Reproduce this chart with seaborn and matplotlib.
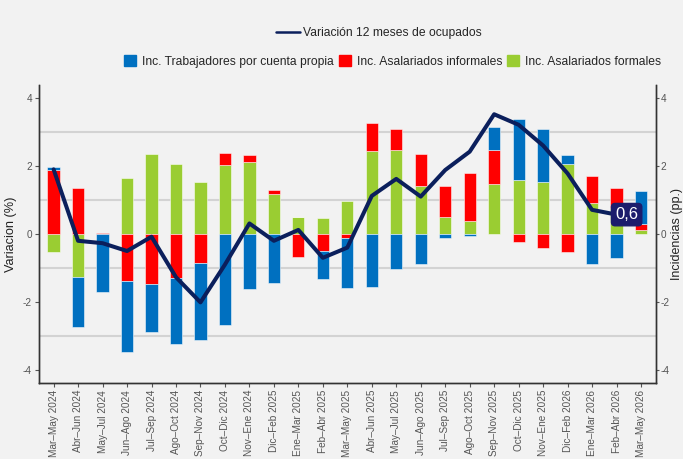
import numpy as np
import matplotlib
matplotlib.use("Agg")
import matplotlib.pyplot as plt
from matplotlib.lines import Line2D
from matplotlib.patches import Patch
import seaborn as sns

periodos = ["Mar–May 2024", "Abr–Jun 2024", "May–Jul 2024", "Jun–Ago 2024", "Jul–Sep 2024",
            "Ago–Oct 2024", "Sep–Nov 2024", "Oct–Dic 2024", "Nov–Ene 2024", "Dic–Feb 2025",
            "Ene–Mar 2025", "Feb–Abr 2025", "Mar–May 2025", "Abr–Jun 2025", "May–Jul 2025",
            "Jun–Ago 2025", "Jul–Sep 2025", "Ago–Oct 2025", "Sep–Nov 2025", "Oct–Dic 2025",
            "Nov–Ene 2025", "Dic–Feb 2026", "Ene–Mar 2026", "Feb–Abr 2026", "Mar–May 2026"]

formales = [-0.54, -1.25, 0.0, 1.66, 2.36, 2.06, 1.52, 2.04, 2.11, 1.18, 0.49, 0.48, 0.96,
            2.43, 2.47, 1.40, 0.50, 0.37, 1.47, 1.60, 1.52, 2.05, 0.90, 0.77, 0.12]
informales = [1.89, 1.36, 0.02, -1.39, -1.46, -1.28, -0.86, 0.34, 0.22, 0.11, -0.67, -0.50, -0.13,
              0.84, 0.61, 0.95, 0.92, 1.43, 1.01, -0.23, -0.40, -0.54, 0.81, 0.57, 0.18]
cuenta_propia = [0.07, -1.48, -1.70, -2.08, -1.43, -1.94, -2.26, -2.68, -1.61, -1.44, 0.0, -0.81, -1.47,
                 -1.57, -1.04, -0.87, -0.12, -0.07, 0.67, 1.77, 1.56, 0.28, -0.89, -0.72, 0.95]
variacion = [1.90, -0.20, -0.27, -0.50, -0.08, -1.27, -2.01, -0.90, 0.31, -0.20, 0.12, -0.70,
             -0.40, 1.12, 1.62, 1.10, 1.88, 2.42, 3.52, 3.21, 2.60, 1.78, 0.71, 0.57]

COL_AZUL = "#0070C0"
COL_ROJO = "#FF0000"
COL_VERDE = "#9ACD32"
COL_LINEA = "#0B1F5C"
FONDO = "#F2F2F2"


def apilar(*series):
    # base de cada serie: positivos hacia arriba, negativos hacia abajo
    pos = np.zeros(len(series[0]))
    neg = np.zeros(len(series[0]))
    bases = []
    for s in series:
        s = np.asarray(s, dtype=float)
        bases.append(np.where(s >= 0, pos, neg))
        pos = pos + np.clip(s, 0, None)
        neg = neg + np.clip(s, None, 0)
    return bases


sns.set_theme(style="white")
plt.rcParams["font.family"] = ["Liberation Sans", "DejaVu Sans"]
plt.rcParams["axes.unicode_minus"] = False

fig = plt.figure(figsize=(6.83, 4.59), dpi=100, facecolor=FONDO)
ax = fig.add_axes([0.057, 0.1656, 0.903, 0.6492], facecolor=FONDO)

b_verde, b_rojo, b_azul = apilar(formales, informales, cuenta_propia)
borde = dict(edgecolor=(1, 1, 1, 0.6), linewidth=0.6)
for valores, base, color in [(formales, b_verde, COL_VERDE),
                             (informales, b_rojo, COL_ROJO),
                             (cuenta_propia, b_azul, COL_AZUL)]:
    sns.barplot(x=periodos, y=valores, bottom=base, color=color, saturation=1,
                width=0.5, errorbar=None, ax=ax, **borde)

sns.lineplot(x=np.arange(len(variacion)), y=variacion, color=COL_LINEA, lw=2.9, ax=ax)

etiqueta = f"{variacion[-1]:.1f}".replace(".", ",")
ax.annotate(etiqueta, xy=(len(variacion) - 1, variacion[-1]), xytext=(-1, 0),
            textcoords="offset points", ha="left", va="center", color="white", fontsize=12,
            bbox=dict(boxstyle="round,pad=0.22", fc="#1C1C6C", ec="#1C1C6C"), zorder=5)

ax.set_xlim(-0.6, len(periodos) - 0.4)
ax.set_ylim(-4.38, 4.38)
ax.set_yticks([-4, -2, 0, 2, 4])
ax.set_yticks([-3, -1, 1, 3], minor=True)
ax.grid(False)
ax.grid(which="minor", axis="y", color="#D3D3D3", lw=1.5)
ax.set_axisbelow(True)
ax.tick_params(which="minor", length=0)
ax.tick_params(axis="both", which="major", length=3, width=0.8, color="#555555",
               labelcolor="#555555", labelsize=7.2, direction="out", left=True, bottom=True,
               pad=2)
ax.tick_params(axis="x", labelrotation=90, labelsize=7.2)
ax.set_xlabel("")
ax.set_ylabel("Variacion (%)", fontsize=9.2, color="#222222", labelpad=4)

ax2 = ax.twinx()
ax2.set_ylim(ax.get_ylim())
ax2.set_yticks([-4, -2, 0, 2, 4])
ax2.grid(False)
ax2.tick_params(axis="y", length=2, width=0.8, color="#555555", labelcolor="#555555",
                labelsize=7.2, direction="out", right=True, pad=1.5)
ax2.set_ylabel("Incidencias (pp.)", fontsize=9.0, color="#222222", labelpad=1)

for a in (ax, ax2):
    a.spines["top"].set_visible(False)
    for lado in ("left", "right", "bottom"):
        a.spines[lado].set_color("#333333")
        a.spines[lado].set_linewidth(1.0)

fig.legend([Line2D([], [], color=COL_LINEA, lw=1.8)], ["Variación 12 meses de ocupados"],
           loc="center", bbox_to_anchor=(0.555, 0.928), frameon=False, fontsize=8.7,
           handlelength=2.0, handletextpad=0.25)
fig.legend([Patch(color=COL_AZUL), Patch(color=COL_ROJO), Patch(color=COL_VERDE)],
           ["Inc. Trabajadores por cuenta propia", "Inc. Asalariados informales",
            "Inc. Asalariados formales"],
           loc="center", bbox_to_anchor=(0.575, 0.867), ncol=3, frameon=False, fontsize=8.7,
           handlelength=1.0, handleheight=1.15, handletextpad=0.5, columnspacing=0.4)

fig.savefig("out.png", dpi=100, facecolor=fig.get_facecolor())
